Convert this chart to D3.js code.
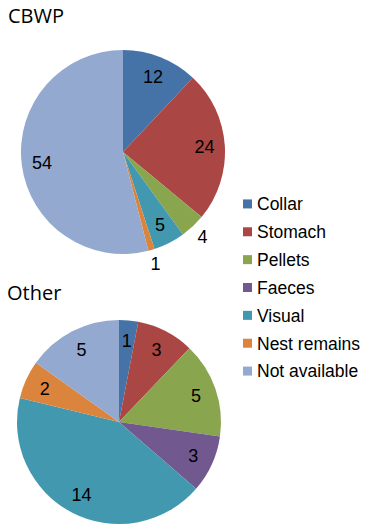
<!DOCTYPE html>
<html>
<head>
<meta charset="utf-8">
<script src="https://cdn.jsdelivr.net/npm/d3@7"></script>
<style>
  body { margin: 0; background: #fff; }
</style>
</head>
<body>
<svg id="viz"></svg>
<script>
// categories and values
var categories = ["Collar", "Stomach", "Pellets", "Faeces", "Visual", "Nest remains", "Not available"];
var cbwpValues = [12, 24, 4, 0, 5, 1, 54];
var otherValues = [1, 3, 5, 3, 14, 2, 5];
var colours = ["#4572A7", "#AA4643", "#89A54E", "#71588F", "#4198AF", "#DB843D", "#93A9CF"];
// labels that Excel put outside the slice
var cbwpOutside = ["Pellets", "Nest remains"];

var width = 369, height = 526;
var svg = d3.select("#viz").attr("width", width).attr("height", height);
var color = d3.scaleOrdinal().domain(categories).range(colours);

var pie = d3.pie().sort(null).value(function (d) { return d.value; });

function drawPie(title, values, outside, cx, cy, r, titleX, titleY) {
    var data = categories.map(function (c, i) { return { cat: c, value: values[i] }; });
    var arcs = pie(data);
    var arc = d3.arc().innerRadius(0).outerRadius(r);
    var inLabel = d3.arc().innerRadius(r * 0.8).outerRadius(r * 0.8);
    var outLabel = d3.arc().innerRadius(r * 1.14).outerRadius(r * 1.14);

    svg.append("text")
        .attr("x", titleX).attr("y", titleY)
        .style("font-family", "'Open Sans', sans-serif")
        .style("font-size", "20px")
        .style("fill", "#000")
        .text(title);

    var g = svg.append("g").attr("transform", "translate(" + cx + "," + cy + ")");

    g.selectAll("path")
        .data(arcs)
        .enter()
        .append("path")
        .attr("d", arc)
        .attr("fill", function (d) { return color(d.data.cat); });

    g.selectAll("text")
        .data(arcs.filter(function (d) { return d.data.value > 0; }))
        .enter()
        .append("text")
        .attr("transform", function (d) {
            var a = outside.indexOf(d.data.cat) >= 0 ? outLabel : inLabel;
            return "translate(" + a.centroid(d) + ")";
        })
        .attr("text-anchor", "middle")
        .attr("dy", "0.36em")
        .style("font-family", "'Liberation Sans', Arial, sans-serif")
        .style("font-size", "18px")
        .style("fill", "#000")
        .text(function (d) { return d.data.value; });
}

drawPie("CBWP", cbwpValues, cbwpOutside, 123, 152, 102, 8, 23);
drawPie("Other", otherValues, [], 119, 422, 102, 7, 300);

// legend
var y = d3.scaleBand().domain(categories).range([190, 385]);
var legend = svg.append("g").attr("class", "legend")
    .selectAll("g")
    .data(categories)
    .enter()
    .append("g")
    .attr("transform", function (d) { return "translate(243," + (y(d) + y.bandwidth() / 2) + ")"; });

legend.append("rect")
    .attr("x", 0).attr("y", -4.5)
    .attr("width", 9).attr("height", 9)
    .attr("fill", function (d) { return color(d); });

legend.append("text")
    .attr("x", 14).attr("dy", "0.36em")
    .style("font-family", "'Liberation Sans', Arial, sans-serif")
    .style("font-size", "17.5px")
    .style("fill", "#000")
    .text(function (d) { return d; });
</script>
</body>
</html>
